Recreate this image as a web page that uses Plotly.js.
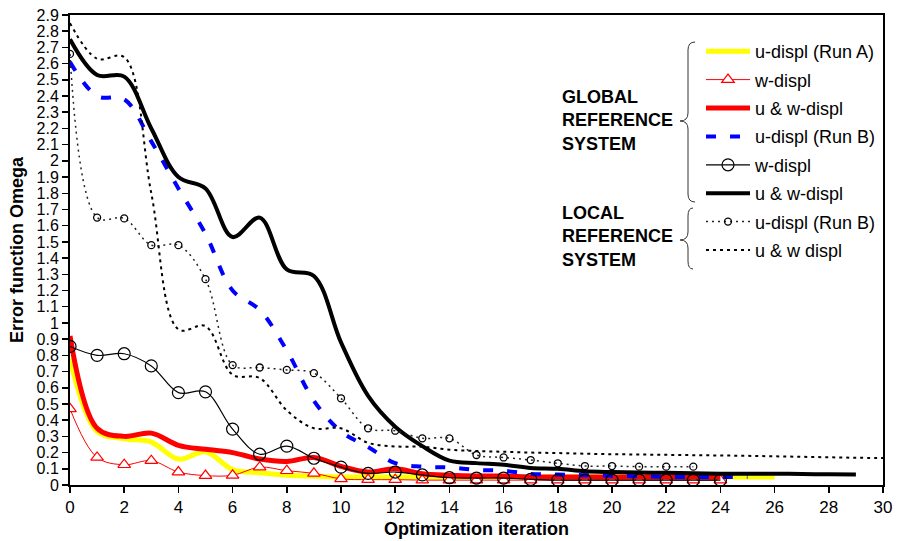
<!DOCTYPE html>
<html>
<head>
<meta charset="utf-8">
<script src="https://cdn.plot.ly/plotly-3.0.1.min.js"></script>
<style>html,body{margin:0;padding:0;background:#fff;}#chart{width:898px;height:541px;}</style>
</head>
<body>
<div id="chart"></div>
<script>
// ---- data ----
var iterRunA    = [0,1,2,3,4,5,6,7,8,9,10,11,12,13,14,15,16,17,18,19,20,21,22,23,24,25,26];
var uRunAGlobal = [0.78,0.33,0.285,0.265,0.16,0.205,0.095,0.075,0.06,0.055,0.05,0.05,0.05,0.05,0.05,0.05,0.05,0.05,0.05,0.05,0.05,0.05,0.05,0.05,0.05,0.05,0.05];

var iterW       = [0,1,2,3,4,5,6,7,8,9,10,11,12,13,14,15,16,17,18,19,20,21,22,23,24];
var wGlobalA    = [0.47,0.17,0.125,0.15,0.08,0.058,0.06,0.11,0.088,0.072,0.038,0.033,0.033,0.03,0.03,0.03,0.03,0.03,0.03,0.03,0.03,0.03,0.03,0.03,0.03];
var uwGlobalA   = [0.92,0.35,0.30,0.32,0.245,0.22,0.20,0.16,0.145,0.17,0.115,0.08,0.10,0.07,0.06,0.055,0.055,0.05,0.05,0.05,0.05,0.05,0.05,0.05,0.05];

var iterRunB    = [0,1,2,3,4,5,6,7,8,9,10,11,12,13,14,15,16,17,18,19,20,21,22,23,24,25];
var uRunBGlobal = [2.61,2.40,2.38,2.12,1.83,1.55,1.20,1.08,0.83,0.52,0.33,0.235,0.135,0.113,0.108,0.093,0.088,0.068,0.065,0.06,0.057,0.054,0.05,0.05,0.05,0.05];

var wGlobalB    = [0.855,0.80,0.81,0.735,0.57,0.575,0.345,0.19,0.24,0.165,0.11,0.072,0.08,0.062,0.045,0.043,0.043,0.035,0.03,0.03,0.03,0.03,0.03,0.03,0.03];

var iterUW      = [0,1,2,3,4,5,6,7,8,9,10,11,12,13,14,15,16,17,18,19,20,21,22,23,24,25,26,27,28,29];
var uwGlobalB   = [2.75,2.53,2.52,2.2,1.9,1.83,1.53,1.65,1.33,1.29,0.88,0.55,0.36,0.24,0.15,0.135,0.125,0.105,0.1,0.085,0.08,0.077,0.075,0.072,0.07,0.07,0.07,0.068,0.066,0.065];

var iterLocalU  = [0,1,2,3,4,5,6,7,8,9,10,11,12,13,14,15,16,17,18,19,20,21,22,23];
var uRunBLocal  = [2.66,1.65,1.645,1.48,1.48,1.27,0.74,0.725,0.71,0.69,0.535,0.35,0.335,0.288,0.288,0.185,0.17,0.154,0.134,0.117,0.117,0.113,0.113,0.113];

var iterLocalUW = [0,1,2,3,4,5,6,7,8,9,10,11,12,13,14,15,16,17,18,19,20,21,22,23,24,25,26,27,28,29,30];
var uwLocal     = [2.85,2.63,2.64,1.8,0.96,0.98,0.68,0.66,0.46,0.35,0.35,0.26,0.238,0.236,0.218,0.21,0.205,0.2,0.197,0.193,0.19,0.188,0.186,0.184,0.182,0.18,0.177,0.174,0.171,0.168,0.166];

var names = ['u-displ (Run A)','w-displ','u &amp; w-displ','u-displ (Run B)','w-displ','u &amp; w-displ','u-displ (Run B)','u &amp; w displ'];
var groupLabels = ['GLOBAL<br>REFERENCE<br>SYSTEM','LOCAL<br>REFERENCE<br>SYSTEM'];
var xTitle = 'Optimization iteration';
var yTitle = 'Error function Omega';

var FONT = 'Liberation Sans, Arial, sans-serif';
var sp = {shape:'spline', smoothing:1};

var traces = [
  {x:iterRunA, y:uRunAGlobal, name:names[0], mode:'lines', line:Object.assign({color:'#FFFF00', width:5}, sp)},
  {x:iterW, y:wGlobalA, name:names[1], mode:'lines+markers', line:Object.assign({color:'#FF0000', width:1}, sp),
   marker:{symbol:'triangle-up', size:11, color:'#ffffff', line:{color:'#FF0000', width:1.2}}},
  {x:iterW, y:uwGlobalA, name:names[2], mode:'lines', line:Object.assign({color:'#FF0000', width:5}, sp)},
  {x:iterRunB, y:uRunBGlobal, name:names[3], mode:'lines', line:Object.assign({color:'#0000FF', width:4, dash:'10px,14px'}, sp)},
  {x:iterW, y:wGlobalB, name:names[4], mode:'lines+markers', line:Object.assign({color:'#000000', width:1.2}, sp),
   marker:{symbol:'circle-open', size:12, color:'#000000', line:{color:'#000000', width:1.2}}},
  {x:iterUW, y:uwGlobalB, name:names[5], mode:'lines', line:Object.assign({color:'#000000', width:4}, sp)},
  {x:iterLocalU, y:uRunBLocal, name:names[6], mode:'lines+markers', line:Object.assign({color:'#222222', width:1.5, dash:'2px,4px'}, sp),
   marker:{symbol:'circle-open', size:7, color:'#000000', line:{color:'#000000', width:1.3}}},
  {x:iterLocalUW, y:uwLocal, name:names[7], mode:'lines', line:Object.assign({color:'#000000', width:2, dash:'3px,4px'}, sp)}
];
traces.forEach(function(t,i){ t.legendgroup = 'g'+i; t.hoverinfo='x+y'; });

// layout helpers (pixel -> paper)
var L = 70, R = 15, T = 15, B = 56, W = 898, H = 541;
var PW = W - L - R, PH = H - T - B;
function px(x){ return (x - L) / PW; }
function py(y){ return (H - B - y) / PH; }
function brace(xr, xl, xtip, ytop, ymid, ybot){
  return 'M' + px(xr) + ',' + py(ytop) +
    ' Q' + px(xl) + ',' + py(ytop) + ' ' + px(xl) + ',' + py(ytop + 8) +
    ' L' + px(xl) + ',' + py(ymid - 8) +
    ' Q' + px(xl) + ',' + py(ymid) + ' ' + px(xtip) + ',' + py(ymid) +
    ' Q' + px(xl) + ',' + py(ymid) + ' ' + px(xl) + ',' + py(ymid + 8) +
    ' L' + px(xl) + ',' + py(ybot - 8) +
    ' Q' + px(xl) + ',' + py(ybot) + ' ' + px(xr) + ',' + py(ybot);
}

var layout = {
  width: W, height: H,
  margin: {l:L, r:R, t:T, b:B, pad:0},
  paper_bgcolor:'#ffffff', plot_bgcolor:'#ffffff',
  font: {family: FONT, size: 16, color:'#000'},
  showlegend: true,
  legend: {x: px(701), y: py(33), xanchor:'left', yanchor:'top', bgcolor:'rgba(0,0,0,0)',
           font:{family:FONT, size:18, color:'#000'}, tracegroupgap: 2, itemwidth: 44, traceorder:'grouped'},
  xaxis: {range:[0,30], dtick:2, tick0:0, showgrid:false, zeroline:false,
          showline:true, linecolor:'#000', linewidth:2, mirror:true,
          ticks:'outside', ticklen:6, tickwidth:1.5, tickcolor:'#000',
          tickfont:{family:FONT, size:17},
          title:{text:'<b>'+xTitle+'</b>', font:{family:FONT, size:18}, standoff:6}},
  yaxis: {range:[0,2.9], dtick:0.1, tick0:0, showgrid:false, zeroline:false,
          showline:true, linecolor:'#000', linewidth:2, mirror:true,
          ticks:'outside', ticklen:6, tickwidth:1.5, tickcolor:'#000',
          tickfont:{family:FONT, size:16},
          title:{text:'<b>'+yTitle+'</b>', font:{family:FONT, size:18}, standoff:8}},
  annotations: [
    {xref:'paper', yref:'paper', x:px(560), y:py(120.5), xanchor:'left', yanchor:'middle', align:'left',
     showarrow:false, text:'<b>'+groupLabels[0]+'</b>', font:{family:FONT, size:18, color:'#000'}},
    {xref:'paper', yref:'paper', x:px(560), y:py(236.5), xanchor:'left', yanchor:'middle', align:'left',
     showarrow:false, text:'<b>'+groupLabels[1]+'</b>', font:{family:FONT, size:18, color:'#000'}}
  ],
  shapes: [
    {type:'path', xref:'paper', yref:'paper', path: brace(695, 688, 680, 42, 121, 202), line:{color:'#333', width:1}},
    {type:'path', xref:'paper', yref:'paper', path: brace(693, 688, 680, 208, 240, 269), line:{color:'#333', width:1}}
  ]
};

Plotly.newPlot('chart', traces, layout, {displayModeBar:false, staticPlot:true});
</script>
</body>
</html>
